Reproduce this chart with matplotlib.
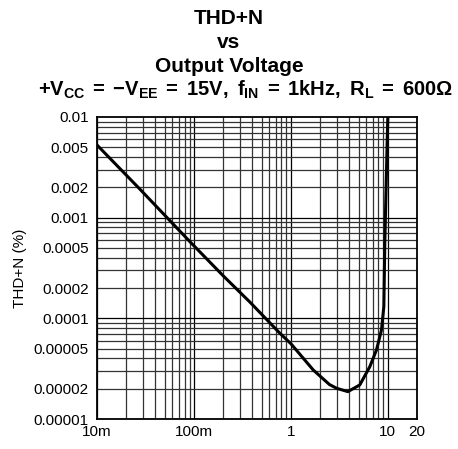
import matplotlib
matplotlib.use("Agg")
import matplotlib.pyplot as plt
from matplotlib.ticker import FixedLocator

plt.rcParams['font.family'] = ['Liberation Sans', 'DejaVu Sans']
plt.rcParams['mathtext.fontset'] = 'custom'
plt.rcParams['mathtext.rm'] = 'Liberation Sans:bold'
plt.rcParams['mathtext.it'] = 'Liberation Sans:bold'
plt.rcParams['mathtext.bf'] = 'Liberation Sans:bold'

# Data
vout = [0.01, 0.0277, 0.091, 0.2, 0.378, 0.771, 1.0, 1.7, 2.5, 2.96, 3.87,
        5.14, 6.52, 7.64, 8.6, 9.1, 9.31, 9.6, 9.84, 10.0]
thdn = [5.27e-3, 1.92e-3, 5.77e-4, 2.65e-4, 1.45e-4, 7.1e-5, 5.6e-5, 3.07e-5,
        2.2e-5, 2.02e-5, 1.87e-5, 2.18e-5, 3.31e-5, 4.85e-5, 7.66e-5, 1.31e-4,
        5.6e-4, 2.0e-3, 5.5e-3, 1.0e-2]

x_ticks = [0.01, 0.1, 1, 10, 20]
x_labels = ['10m', '100m', '1', '10', '20']
y_ticks = [0.00001, 0.00002, 0.00005, 0.0001, 0.0002, 0.0005, 0.001, 0.002, 0.005, 0.01]
y_labels = ['0.00001', '0.00002', '0.00005', '0.0001', '0.0002', '0.0005',
            '0.001', '0.002', '0.005', '0.01']

fig = plt.figure(figsize=(4.58, 4.49), dpi=100)
ax = fig.add_axes([97/458, 1-419/449, 320/458, 302/449])
ax.set_xscale('log')
ax.set_yscale('log')
ax.set_xlim(0.01, 20)
ax.set_ylim(0.00001, 0.01)

# grid
xg = []
for d in [0.01, 0.1, 1]:
    for k in range(1, 10):
        xg.append(d * k)
xg.append(10)
yg = []
for d in [0.00001, 0.0001, 0.001]:
    for k in range(1, 10):
        yg.append(d * k)
for v in xg:
    ax.axvline(v, color='black' if v in (0.01, 0.1, 1, 10) else '#333333', lw=0.9, zorder=1)
for v in yg:
    ax.axhline(v, color='black' if v in (0.00001, 0.0001, 0.001) else '#333333', lw=0.9, zorder=1)

ax.plot(vout, thdn, color='black', lw=2.2, zorder=3, solid_capstyle='butt')

ax.xaxis.set_major_locator(FixedLocator(x_ticks))
ax.set_xticklabels(x_labels)
ax.xaxis.set_minor_locator(FixedLocator([]))
ax.yaxis.set_major_locator(FixedLocator(y_ticks))
ax.set_yticklabels(y_labels)
ax.yaxis.set_minor_locator(FixedLocator([]))
ax.tick_params(length=0, labelsize=11)
ax.tick_params(axis='y', pad=6)
ax.tick_params(axis='x', pad=4)
for s in ax.spines.values():
    s.set_linewidth(1.3)
    s.set_color('black')

ax.set_ylabel('THD+N (%)', fontsize=11, labelpad=5)

fig.text(0.5, 1-18/449, 'THD+N', ha='center', va='center', fontsize=15, fontweight='bold')
fig.text(0.5, 1-43/449, 'vs', ha='center', va='center', fontsize=15, fontweight='bold')
fig.text(0.5, 1-67/449, 'Output Voltage', ha='center', va='center', fontsize=15, fontweight='bold')
fig.text(246/458, 1-90/449,
         r'$+V_{CC}\;{=}\;{-}V_{EE}\;{=}\;15V,\ f_{IN}\;{=}\;1kHz,\ R_{L}\;{=}\;600\Omega$',
         ha='center', va='center', fontsize=14.5)

fig.savefig('out.png', dpi=100)
